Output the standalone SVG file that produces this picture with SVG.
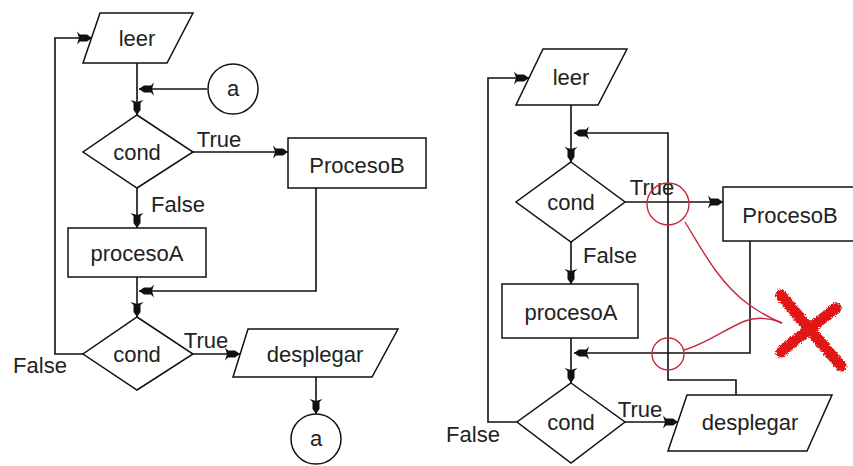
<svg xmlns="http://www.w3.org/2000/svg" width="853" height="466" viewBox="0 0 853 466">
  <style>
    .shape { fill: #ffffff; stroke: #111111; stroke-width: 1.5; }
    .wire { fill: none; stroke: #111111; stroke-width: 1.6; }
    .arrow { marker-end: url(#dart); }
    text { font-family: "Liberation Sans", Arial, sans-serif; font-size: 22px; fill: #222222; text-anchor: middle; }
    .mark { fill: none; stroke: #c8283c; stroke-width: 1.4; }
    .cross { fill: none; stroke: #e31414; stroke-width: 11; stroke-linecap: round; }
  </style>
  <defs>
    <!-- fletched dart arrowhead, tip at the line end -->
    <marker id="dart" markerUnits="userSpaceOnUse" markerWidth="17" markerHeight="16" viewBox="-16 -8 17 16" refX="0" refY="0" orient="auto">
      <path d="M0,0 L-5,-3.5 L-12,-3.5 L-15,-6.5 L-13,0 L-15,6.5 L-12,3.5 L-5,3.5 Z" fill="#111111"/>
    </marker>
    <!-- rough, sprayed edge for the hand-drawn cross -->
    <filter id="spray" x="-20%" y="-20%" width="140%" height="140%">
      <feTurbulence type="fractalNoise" baseFrequency="0.8" numOctaves="2" seed="3" result="noise"/>
      <feDisplacementMap in="SourceGraphic" in2="noise" scale="5" xChannelSelector="R" yChannelSelector="G"/>
    </filter>
  </defs>

  <!-- ===== left flowchart ===== -->
  <g id="connectors-left">
    <line class="wire arrow" x1="137" y1="63" x2="137" y2="115"/>
    <line class="wire arrow" x1="207" y1="89" x2="139" y2="89"/>
    <line class="wire arrow" x1="193" y1="152" x2="288" y2="152"/>
    <line class="wire arrow" x1="137" y1="188" x2="137" y2="228"/>
    <polyline class="wire arrow" points="316,188 316,291 139,291"/>
    <line class="wire arrow" x1="137" y1="277" x2="137" y2="317"/>
    <polyline class="wire arrow" points="83,354 55,354 55,38 92,38"/>
    <line class="wire arrow" x1="193" y1="354" x2="240" y2="354"/>
    <line class="wire arrow" x1="316" y1="377" x2="316" y2="414"/>
    <text x="219" y="147">True</text>
    <text x="178" y="212">False</text>
    <text x="206" y="348">True</text>
    <text x="40" y="373">False</text>
  </g>
  <g id="L-leer">
    <polygon class="shape" points="100,13 193,13 167,63 83,63"/>
    <text x="137" y="46">leer</text>
  </g>
  <g id="L-conn-a-in">
    <circle class="shape" cx="233" cy="89" r="25"/>
    <text x="233" y="96">a</text>
  </g>
  <g id="L-cond1">
    <polygon class="shape" points="137,115 193,152 137,188 83,152"/>
    <text x="137" y="160">cond</text>
  </g>
  <g id="L-procesoB">
    <rect class="shape" x="288" y="138" width="138" height="50"/>
    <text x="357" y="173">ProcesoB</text>
  </g>
  <g id="L-procesoA">
    <rect class="shape" x="68" y="228" width="138" height="49"/>
    <text x="137" y="261">procesoA</text>
  </g>
  <g id="L-cond2">
    <polygon class="shape" points="137,317 193,354 137,390 83,354"/>
    <text x="137" y="362">cond</text>
  </g>
  <g id="L-desplegar">
    <polygon class="shape" points="248,329 398,329 372,377 233,377"/>
    <text x="315" y="362">desplegar</text>
  </g>
  <g id="L-conn-a-out">
    <circle class="shape" cx="316" cy="439" r="25"/>
    <text x="316" y="446">a</text>
  </g>

  <!-- ===== right flowchart ===== -->
  <g id="connectors-right">
    <line class="wire arrow" x1="571" y1="105" x2="571" y2="162"/>
    <polyline class="wire arrow" points="736,395 736,380 668,380 668,133 574,133"/>
    <line class="wire arrow" x1="625" y1="202" x2="723" y2="202"/>
    <polyline class="wire arrow" points="750,241 750,353 574,353"/>
    <line class="wire arrow" x1="571" y1="242" x2="571" y2="284"/>
    <line class="wire arrow" x1="571" y1="338" x2="571" y2="383"/>
    <polyline class="wire arrow" points="517,422 488,422 488,78 529,78"/>
    <line class="wire arrow" x1="625" y1="422" x2="678" y2="422"/>
    <text x="652" y="195">True</text>
    <text x="610" y="263">False</text>
    <text x="640" y="417">True</text>
    <text x="473" y="442">False</text>
  </g>
  <g id="R-leer">
    <polygon class="shape" points="543,49 627,49 598,105 516,105"/>
    <text x="571" y="85">leer</text>
  </g>
  <g id="R-cond1">
    <polygon class="shape" points="571,162 625,202 571,242 516,202"/>
    <text x="571" y="210">cond</text>
  </g>
  <g id="R-procesoB">
    <rect class="shape" x="723" y="187" width="140" height="54"/>
    <text x="790" y="223">ProcesoB</text>
  </g>
  <g id="R-procesoA">
    <rect class="shape" x="502" y="284" width="136" height="54"/>
    <text x="571" y="320">procesoA</text>
  </g>
  <g id="R-cond2">
    <polygon class="shape" points="571,383 625,422 571,463 517,422"/>
    <text x="571" y="430">cond</text>
  </g>
  <g id="R-desplegar">
    <polygon class="shape" points="687,395 832,395 807,451 668,451"/>
    <text x="750" y="430">desplegar</text>
  </g>

  <!-- hand-drawn red annotation: crossings circled and struck out -->
  <g id="annotation">
    <circle class="mark" cx="668" cy="204" r="21"/>
    <circle class="mark" cx="668" cy="354" r="16"/>
    <path class="mark" d="M685,222 C700,246 718,282 748,304 C762,314 772,319 782,323"/>
    <path class="mark" d="M782,323 C770,318 756,317 745,321 C725,329 706,344 684,350"/>
    <g filter="url(#spray)">
      <path class="cross" d="M781,295 C800,318 822,344 841,366"/>
      <path class="cross" d="M836,308 C818,322 798,338 781,352"/>
    </g>
  </g>
</svg>
